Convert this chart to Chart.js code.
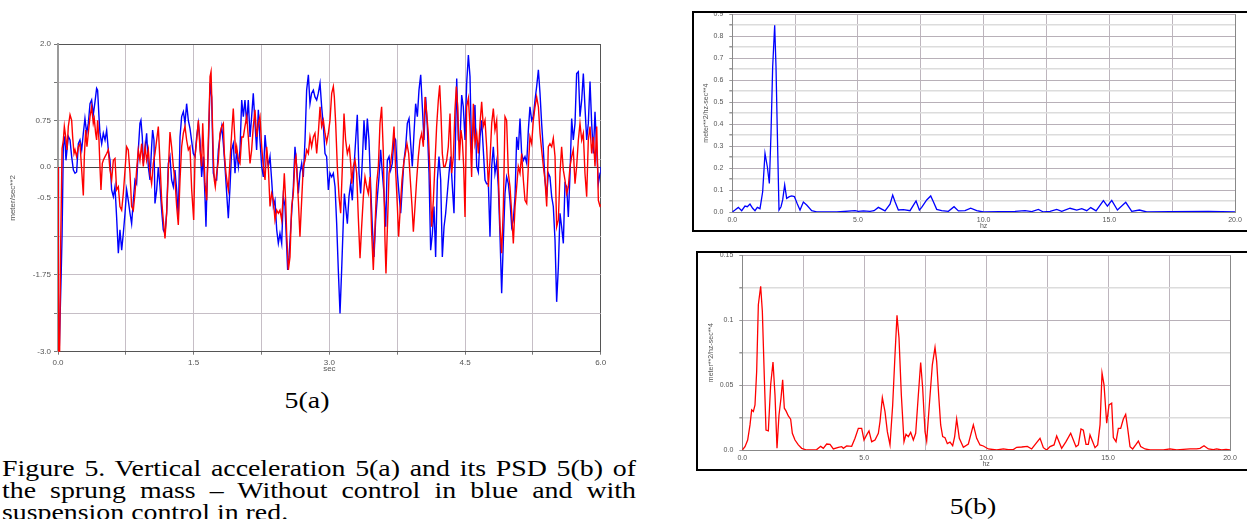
<!DOCTYPE html>
<html>
<head>
<meta charset="utf-8">
<script src="https://cdn.jsdelivr.net/npm/chart.js@4.4.0/dist/chart.umd.min.js"></script>
<style>
  body { margin: 0; width: 1247px; height: 519px; background: #fff; position: relative; overflow: hidden; }
  .abs { position: absolute; }
  .frame { position: absolute; box-sizing: border-box; border: 2px solid #000; overflow: hidden; }
  .frame canvas { display: block; }
  .serif { font-family: "Liberation Serif", "Times New Roman", serif; color: #000; transform-origin: left top; transform: scaleX(1.16); }
  #capA { left: 278px; top: 386px; width: 50px; text-align: center; font-size: 24px; line-height: 28px; }
  #capB { left: 944px; top: 492px; width: 50px; text-align: center; font-size: 24px; line-height: 28px; }
  #figText { left: 2px; top: 457px; width: 546.5px; font-size: 24px; line-height: 22px; text-align: justify; }
</style>
</head>
<body>

<div class="abs" style="left:0;top:0;"><canvas id="accelChart" width="620" height="380"></canvas></div>

<div class="frame" style="left:692px;top:11px;width:560px;height:221px;">
  <canvas id="psdTop" width="553" height="226" style="margin-top:-9px;"></canvas>
</div>

<div class="frame" style="left:696px;top:251px;width:560px;height:220px;">
  <canvas id="psdBottom" width="549" height="224" style="margin-top:-8px;"></canvas>
</div>

<div id="capA" class="abs serif">5(a)</div>
<div id="capB" class="abs serif">5(b)</div>
<div id="figText" class="abs serif">Figure 5. Vertical acceleration 5(a) and its PSD 5(b) of the sprung mass &ndash; Without control in blue and with suspension control in red.</div>

<script>
// ---- 5(a) vertical acceleration, sec -> meter/sec**2 ----
const blueTime = [
  0,0.005,0.015,0.035,0.045,0.059,0.075,0.088,0.114,0.133,0.151,0.17,0.188,0.206,0.225,0.243,0.262,0.28,0.298,0.317,
  0.335,0.354,0.372,0.39,0.409,0.427,0.438,0.453,0.464,0.483,0.501,0.52,0.538,0.556,0.575,0.593,0.612,0.63,0.648,0.667,
  0.685,0.704,0.722,0.741,0.759,0.777,0.796,0.814,0.833,0.851,0.869,0.888,0.906,0.917,0.932,0.943,0.962,0.98,0.999,1.017,
  1.035,1.046,1.061,1.072,1.091,1.109,1.128,1.146,1.164,1.183,1.201,1.22,1.238,1.256,1.275,1.293,1.312,1.33,1.349,1.367,
  1.386,1.404,1.422,1.441,
  1.459,1.496,1.515,1.533,1.552,1.57,1.588,1.607,1.625,1.636,1.651,1.662,1.681,1.699,1.717,1.736,1.754,1.773,1.791,1.81,
  1.828,1.846,1.865,1.883,1.902,1.92,1.938,1.957,1.975,1.994,2.012,2.031,2.049,2.067,2.086,2.104,2.123,2.141,2.159,2.178,
  2.196,2.215,2.233,2.252,2.27,2.289,2.307,2.325,2.344,2.362,2.381,2.399,2.418,2.436,2.454,2.473,2.491,2.51,2.528,2.539,
  2.554,2.565,2.583,2.602,2.62,2.639,2.657,2.675,2.694,2.712,2.731,2.749,2.768,2.786,2.804,2.823,2.841,2.86,2.878,2.897,
  2.915,2.934,2.952,2.97,2.989,
  3.007,3.026,3.044,3.063,3.081,3.099,3.118,3.136,3.155,3.166,3.18,3.199,3.217,3.236,3.254,3.273,3.291,3.309,3.328,3.346,
  3.365,3.383,3.402,3.42,3.438,3.457,3.475,3.494,3.512,3.531,3.549,3.567,3.586,3.604,3.623,3.641,3.66,3.678,3.696,3.715,
  3.733,3.752,3.77,3.789,3.807,3.825,3.844,3.862,3.881,3.899,3.917,3.936,3.954,3.973,3.991,4.01,4.028,4.046,4.065,4.083,
  4.102,4.12,4.139,4.157,4.175,4.194,4.212,4.231,4.249,4.268,4.286,4.304,4.323,4.341,4.36,4.378,4.408,4.426,4.444,4.463,
  4.481,
  4.5,4.518,4.537,4.555,4.573,4.592,4.61,4.629,4.647,4.666,4.684,4.702,4.721,4.739,4.758,4.776,4.795,4.813,4.831,4.85,
  4.868,4.887,4.905,4.924,4.942,4.96,4.979,4.997,5.016,5.034,5.053,5.071,5.089,5.108,5.126,5.145,5.163,5.182,5.2,5.218,
  5.237,5.255,5.274,5.292,5.311,5.329,5.347,5.366,5.384,5.403,5.421,5.439,5.458,5.476,5.495,5.513,5.532,5.55,5.568,5.587,
  5.605,5.624,5.642,5.661,5.679,5.697,5.716,5.734,5.753,5.771,5.79,5.808,5.826,5.845,5.863,5.882,5.9,5.919,5.937,5.956,
  5.974,5.993,6.0
];
const blueAccel = [
  0,-2.9,-2.9,-1.75,-1.1,0.33,0.5,0.11,0.5,0.44,0.17,-0.05,-0.1,-0.08,0.38,0.44,0.28,0.55,0.79,0.55,
  0.71,1.03,1.09,0.85,1.06,1.28,1.25,0.82,0.55,0.38,0.55,0.44,0.6,0.28,0.11,-0.37,-0.48,-0.32,-0.81,-1.4,
  -1.02,-1.35,-1.08,-0.75,-0.37,-0.54,-0.75,-0.92,-0.54,-0.21,-0.27,0.28,0.71,0.76,0.49,0.06,0.28,0.55,0.0,-0.21,
  0.33,0.6,0.44,-0.59,-0.37,0.0,-0.32,-0.7,-1.02,-1.08,-0.75,0.06,0.17,-0.21,-0.32,-0.05,-0.37,-0.81,0.49,0.82,
  0.9,0.71,1.03,0.76,
  0.63,0.22,0.17,0.49,0.71,0.44,-0.16,0.17,-0.48,-0.97,-0.1,0.28,1.36,1.14,-0.1,-0.21,-0.21,0.28,0.49,0.66,
  0.38,0.01,-0.43,-0.83,-0.32,0.28,0.38,-0.1,0.28,0.01,0.28,1.09,0.82,1.09,0.71,1.09,0.49,0.82,1.2,0.71,
  0.28,0.93,0.44,0.01,-0.16,0.52,0.22,0.01,0.17,-0.21,-0.64,-0.54,-1.02,-1.24,-1.08,-1.24,-0.48,-0.64,-1.29,-1.67,
  -1.46,-1.19,-0.75,-0.32,0.33,0.01,-0.43,-0.1,0.06,-0.16,0.44,1.25,1.5,1.03,1.2,1.25,1.14,1.09,1.2,1.36,
  0.98,0.66,0.22,0.17,-0.37,
  -0.1,-0.16,-0.1,-0.32,-0.92,-1.67,-2.38,-1.67,-0.86,-0.43,-0.64,-0.92,-0.48,-0.27,-0.54,0.01,0.44,0.85,-0.1,-0.43,
  0.11,0.76,0.28,0.79,0.44,-0.32,-0.97,-1.46,-0.86,-0.48,-0.16,0.28,-0.1,-0.43,-0.97,0.11,0.17,-0.05,0.06,0.49,
  0.44,-0.1,-0.43,-0.75,-0.32,0.11,0.33,0.71,0.79,0.38,0.01,0.55,1.03,0.82,1.25,1.5,0.98,0.44,1.14,0.66,
  -0.1,-1.35,-1.08,-0.64,-1.46,-0.21,0.17,-0.21,-1.46,-0.97,-0.75,-0.43,-0.1,0.17,-0.32,-0.75,1.44,0.44,0.4,1.17,
  0.98,
  0.44,1.36,1.82,1.47,0.22,0.66,1.01,0.01,-0.08,0.49,0.76,0.28,-0.21,-0.27,-0.27,-1.13,0.01,0.33,-0.1,0.09,
  -0.32,-1.13,-2.05,-1.19,-0.43,-0.16,-0.27,-0.54,-0.97,-0.86,-0.48,0.49,0.28,0.79,0.22,0.11,0.17,0.06,0.6,0.98,
  0.76,0.82,1.09,1.31,1.58,1.2,0.71,0.28,-0.21,-0.48,-0.1,-0.16,-0.48,-0.64,-1.19,-2.19,-1.62,-0.75,-0.97,-1.24,
  -0.27,-0.32,-0.81,-0.1,0.79,0.44,0.71,1.52,1.55,0.82,1.09,1.52,0.98,0.44,0.71,1.39,0.71,0.22,0.9,0.28,
  -0.27,-0.1,0.0
];
const redTime = [
  0,0.004,0.018,0.03,0.045,0.059,0.07,0.085,0.1,0.114,0.133,0.151,0.162,0.177,0.188,0.206,0.225,0.243,0.262,0.28,
  0.291,0.306,0.32,0.335,0.354,0.372,0.39,0.401,0.416,0.427,0.438,0.453,0.464,0.475,0.49,0.501,0.52,0.538,0.556,0.575,
  0.593,0.612,0.63,0.648,0.667,0.685,0.704,0.722,0.741,0.759,0.777,0.796,0.814,0.833,0.851,0.869,0.888,0.906,0.925,0.943,
  0.962,0.98,0.999,1.017,1.035,1.054,1.072,1.091,1.109,1.128,1.146,1.164,1.183,1.201,1.22,1.238,1.256,1.275,1.293,1.312,
  1.33,1.349,1.367,1.386,1.404,1.422,1.441,1.459,1.478,1.5,
  1.515,1.533,1.552,1.57,1.588,1.6,1.614,1.625,1.644,1.662,1.673,1.681,1.692,1.703,1.717,1.728,1.739,1.754,1.773,1.791,
  1.81,1.828,1.839,1.857,1.872,1.883,1.902,1.92,1.938,1.95,1.964,1.975,1.994,2.012,2.031,2.049,2.067,2.086,2.104,2.123,
  2.141,2.159,2.178,2.196,2.215,2.233,2.252,2.27,2.289,2.307,2.325,2.344,2.362,2.381,2.399,2.418,2.436,2.454,2.473,2.491,
  2.502,2.517,2.528,2.547,2.565,2.583,2.602,2.62,2.631,2.646,2.657,2.675,2.694,2.712,2.731,2.749,2.768,2.786,2.804,2.823,
  2.841,2.86,2.878,2.897,2.915,2.934,2.952,2.97,
  2.989,3.007,3.026,3.044,3.055,3.07,3.088,3.107,3.125,3.144,3.162,3.18,3.199,3.21,3.221,3.236,3.247,3.265,3.284,3.302,
  3.32,3.339,3.357,3.376,3.394,3.413,3.431,3.45,3.468,3.486,3.505,3.523,3.542,3.56,3.578,3.597,3.615,3.626,3.641,3.66,
  3.678,3.696,3.715,3.733,3.752,3.766,3.785,3.803,3.822,3.84,3.858,3.877,3.895,3.914,3.929,3.947,3.965,3.984,4.002,4.021,
  4.039,4.058,4.076,4.094,4.113,4.131,4.15,4.168,4.186,4.205,4.22,4.234,4.249,4.264,4.279,4.297,4.315,4.334,4.352,4.371,
  4.389,4.404,4.419,4.437,4.455,4.47,4.485,4.5,
  4.518,4.537,4.555,4.573,4.592,4.61,4.629,4.647,4.666,4.684,4.702,4.721,4.739,4.758,4.776,4.795,4.813,4.831,4.85,4.868,
  4.887,4.905,4.924,4.942,4.96,4.979,4.997,5.016,5.034,5.053,5.071,5.089,5.108,5.126,5.145,5.163,5.182,5.2,5.218,5.237,
  5.255,5.274,5.292,5.311,5.329,5.347,5.366,5.384,5.403,5.421,5.439,5.458,5.476,5.495,5.513,5.532,5.55,5.568,5.587,5.605,
  5.624,5.642,5.661,5.679,5.697,5.716,5.734,5.753,5.771,5.79,5.808,5.826,5.845,5.863,5.882,5.9,5.919,5.937,5.956,5.974,
  5.993,6.0
];
const redAccel = [
  0,-3,-3,-1.2,0.3,0.44,0.66,0.49,0.28,0.66,0.85,0.76,0.49,0.22,0.28,0.17,0.33,0.38,-0.05,-0.46,
  0.17,0.6,0.33,0.55,0.82,0.98,0.71,0.79,0.55,0.44,0.76,0.44,0.01,-0.37,0.06,0.11,0.17,0.22,0.28,-0.05,
  -0.21,0.11,0.14,-0.37,-0.32,-0.64,-0.7,-0.43,-0.05,0.33,0.28,-0.1,-0.64,-0.7,-0.43,-0.05,0.28,0.11,0.38,0.01,
  0.33,0.11,0.28,-0.1,-0.27,0.06,0.22,0.44,0.66,0.06,-0.54,-0.86,-1.16,-0.75,-0.05,0.57,0.33,0.01,-0.21,-0.64,
  -0.94,-0.21,0.33,0.55,0.66,0.44,0.28,0.33,-0.37,-0.86,
  0.17,0.44,0.76,0.28,0.01,0.71,0.17,-0.27,-0.54,0.44,0.98,1.47,1.55,0.98,0.17,-0.21,-0.32,-0.1,0.11,0.55,
  0.66,0.71,0.22,-0.1,-0.27,-0.37,0.11,0.55,0.95,0.6,0.22,0.33,0.11,0.06,0.49,0.49,0.66,0.82,0.49,0.06,
  0.28,0.66,0.93,0.49,0.71,0.82,0.33,0.01,-0.21,0.33,0.01,-0.64,-0.43,-0.54,-0.86,-0.7,-0.75,-0.7,-0.86,-0.43,
  -0.1,-0.54,-1.08,-1.67,-1.46,-0.64,-0.43,0.11,0.17,-0.21,-0.54,-1.13,-0.54,0.01,0.11,0.28,0.22,0.49,0.33,0.49,
  0.55,0.22,0.55,0.98,0.66,0.76,0.55,0.4,
  0.55,0.76,1.2,1.31,1.14,0.71,0.01,-0.48,-0.75,0.01,0.87,0.44,0.22,0.28,0.33,0.06,-0.27,0.01,0.11,-0.1,
  -0.81,-1.48,-0.97,-0.48,-0.16,-0.32,-0.43,-0.16,-1.08,-1.67,-0.97,-0.27,0.01,0.71,0.98,0.22,-1.19,-1.73,-1.02,-0.1,
  0.06,0.28,0.66,-0.05,-0.64,-1.13,-0.64,-0.21,0.06,0.22,0.38,0.22,-0.21,-0.64,-1.05,-0.64,-0.21,0.17,0.44,0.55,
  0.33,1.14,0.87,0.55,-0.1,-0.97,-0.54,0.06,0.66,1.09,1.33,0.87,0.22,0.01,0.01,0.11,0.33,0.87,-0.1,0.17,
  0.93,1.31,0.98,0.11,0.6,0.44,0.01,-0.81,
  0.98,1.12,0.66,-0.16,1.03,0.38,0.55,0.22,0.71,1.06,0.66,0.76,0.33,-0.32,0.11,0.71,0.95,0.6,0.76,-0.1,
  -0.97,-1.4,-0.64,0.82,0.76,-0.1,-0.32,-0.75,-1.24,-0.64,-0.32,0.01,-0.1,0.22,-0.21,-0.54,-0.59,0.01,0.49,0.38,
  0.76,0.98,1.14,0.98,0.55,0.28,0.01,-0.21,-0.64,0.33,0.38,0.33,0.47,0.17,-0.97,-0.86,-0.1,0.33,-0.05,-0.21,
  -0.43,-0.32,0.01,0.17,0.28,-0.27,0.01,0.44,0.71,0.44,0.55,-0.1,-0.48,0.44,0.66,0.22,0.49,0.01,0.66,-0.54,
  -0.64,-0.6
];
const accelTicksX = [0, 0.75, 1.5, 2.25, 3, 3.75, 4.5, 5.25, 6];
const accelLabelsX = ['0.0', '', '1.5', '', '3.0', '', '4.5', '', '6.0'];
const accelTicksY = [-3, -2.375, -1.75, -1.125, -0.5, 0, 0.125, 0.75, 1.375, 2];
const accelLabelsY = ['-3.0', '', '-1.75', '', '-0.5', '0.0', '', '0.75', '', '2.0'];

// ---- 5(b) PSD, hz -> meter**2/hz-sec**4 ----
const blueFreq = [
  0,0.107,0.24,0.373,0.505,0.598,0.704,0.81,0.903,0.996,1.102,1.208,1.301,1.394,1.474,1.54,1.606,1.686,1.739,1.792,
  1.858,1.938,2.004,2.084,2.163,2.27,2.362,2.469,2.588,2.694,2.827,2.96,3.158,3.357,4.153,4.883,5.015,5.214,5.48,5.64,
  5.81,6.076,6.275,6.381,6.474,6.607,6.806,7.071,7.31,7.443,7.535,7.734,7.894,8.0,8.132,8.331,8.597,8.822,8.995,9.26,
  9.485,9.724,9.99,11.25,11.647,11.913,12.178,12.377,12.642,12.908,13.106,13.438,13.703,13.902,14.101,14.26,14.473,14.764,14.924,15.096,
  15.322,15.653,15.892,16.197,16.489,17.417,18.943,20.0
];
const bluePsd = [
  0,0.009,0.021,0.006,0.027,0.024,0.036,0.017,0.006,0.021,0.015,0.092,0.267,0.206,0.13,0.358,0.66,0.85,0.66,0.358,
  0.009,0.024,0.055,0.123,0.062,0.07,0.073,0.07,0.036,0.009,0.045,0.032,0.006,0.001,0,0.006,0.003,0.005,0.003,0.006,
  0.021,0.005,0.036,0.077,0.047,0.009,0.011,0.006,0.05,0.009,0.021,0.055,0.073,0.047,0.012,0.006,0.003,0.024,0.005,0.006,
  0.017,0.006,0,0.003,0.006,0.002,0.012,0,0.003,0.012,0.003,0.017,0.009,0.015,0.006,0.02,0.005,0.052,0.027,0.053,
  0.009,0.044,0.003,0.009,0,0.002,0.003,0
];
const redFreq = [
  0,0.111,0.22,0.316,0.384,0.453,0.521,0.589,0.658,0.753,0.822,0.904,0.972,1.068,1.163,1.259,1.341,1.423,1.505,1.587,
  1.655,1.724,1.792,1.888,1.983,2.052,2.161,2.298,2.435,2.64,3.05,3.214,3.323,3.46,3.597,3.733,3.938,4.075,4.143,4.28,
  4.485,4.622,4.759,4.895,4.991,5.1,5.196,5.305,5.442,5.579,5.647,5.743,5.852,5.948,6.057,6.167,6.262,6.344,6.426,6.522,
  6.631,6.713,6.809,6.905,7.014,7.11,7.219,7.315,7.397,7.493,7.561,7.67,7.793,7.903,7.971,8.053,8.135,8.217,8.313,8.408,
  8.518,8.627,8.709,8.791,8.9,9.065,9.27,9.475,9.612,9.748,9.885,10.09,10.432,10.705,10.91,11.115,11.252,11.457,11.69,11.867,
  12.045,12.209,12.346,12.482,12.619,12.783,12.892,13.097,13.275,13.467,13.685,13.781,13.89,13.986,14.095,14.191,14.259,14.369,14.464,14.574,
  14.67,14.752,14.834,14.943,15.039,15.148,15.216,15.326,15.421,15.517,15.626,15.722,15.804,15.9,16.009,16.132,16.242,16.337,16.515,16.72,
  17.267,17.54,17.814,18.087,18.36,18.634,18.77,18.934,19.112,19.317,19.454,19.659,19.837,20.0
];
const redPsd = [
  0,0.0026,0.0077,0.0193,0.0309,0.0296,0.0347,0.0605,0.1119,0.1261,0.1068,0.0553,0.0154,0.0147,0.0502,0.0677,0.0424,0.0013,0.027,0.0399,
  0.054,0.0322,0.0301,0.0262,0.0237,0.0129,0.0077,0.0039,0.0013,0,0.0003,0.0028,0.0013,0.0046,0.0044,0.0008,0.0021,0.0026,0.0013,0.0031,
  0.0028,0.009,0.0167,0.0167,0.0077,0.0116,0.0147,0.0064,0.0077,0.0129,0.0219,0.0404,0.0296,0.0141,0.0039,0.0347,0.0733,0.1037,0.0862,0.0424,
  0.0064,0.0121,0.0103,0.0136,0.0077,0.0129,0.0424,0.0674,0.0476,0.0141,0.0069,0.0347,0.0656,0.079,0.0682,0.0424,0.0193,0.0103,0.0095,0.0049,
  0.006,0.0033,0.0103,0.0239,0.009,0.0021,0.0046,0.0193,0.009,0.0039,0.0031,0.0008,0,0.0008,0.0003,0.0003,0.0021,0.0023,0.0028,0.0008,
  0.0051,0.009,0.0018,0,0.0026,0.0039,0.0108,0.0013,0.0064,0.0129,0.0026,0.0039,0.0162,0.0152,0.0044,0.0044,0.0116,0.0064,0.0018,0.0039,
  0.0193,0.0592,0.0502,0.0206,0.0347,0.036,0.0095,0.0064,0.0167,0.0167,0.0239,0.0275,0.0167,0.0026,0.0008,0.0039,0.0069,0.0026,0.0008,0,
  0,0.0008,0,0.0005,0.0008,0.0008,0.0013,0.0033,0.0008,0.0003,0.0008,0,0.0005,0
];
const psdTicksX = [0, 2.5, 5, 7.5, 10, 12.5, 15, 17.5, 20];
const psdLabelsX = ['0.0', '', '5.0', '', '10.0', '', '15.0', '', '20.0'];
const psdTopTicksY = [0, 0.05, 0.1, 0.15, 0.2, 0.25, 0.3, 0.35, 0.4, 0.45, 0.5, 0.55, 0.6, 0.65, 0.7, 0.75, 0.8, 0.85, 0.9];
const psdTopLabelsY = ['0.0', '', '0.1', '', '0.2', '', '0.3', '', '0.4', '', '0.5', '', '0.6', '', '0.7', '', '0.8', '', '0.9'];
const psdBottomTicksY = [0, 0.025, 0.05, 0.075, 0.1, 0.125, 0.15];
const psdBottomLabelsY = ['0.0', '', '0.05', '', '0.1', '', '0.15'];

Chart.defaults.font.family = '"Liberation Sans", Arial, sans-serif';
Chart.defaults.color = '#555';
Chart.defaults.animation = false;

function points(xs, ys) {
  return xs.map((x, i) => ({ x: x, y: ys[i] }));
}

function line(xs, ys, color, width) {
  return {
    data: points(xs, ys),
    borderColor: color,
    borderWidth: width,
    pointRadius: 0,
    tension: 0,
    fill: false
  };
}

// fixed tick positions with labels only where the original prints one
function fixedAxis(values, labels, opts) {
  return Object.assign({
    type: 'linear',
    min: values[0],
    max: values[values.length - 1],
    afterBuildTicks: s => { s.ticks = values.map(v => ({ value: v })); },
  }, opts, {
    ticks: Object.assign({ autoSkip: false, maxRotation: 0, callback: (v, i) => labels[i] }, opts.ticks)
  });
}

// ---- chart 5(a) ----
new Chart(document.getElementById('accelChart'), {
  type: 'line',
  data: {
    datasets: [
      line(redTime, redAccel, '#ff0000', 1.4),
      line(blueTime, blueAccel, '#0000ff', 1.4)
    ]
  },
  options: {
    responsive: false,
    devicePixelRatio: 1,
    layout: { padding: { left: 8, top: 44, right: 19.3, bottom: 0 } },
    plugins: { legend: { display: false }, tooltip: { enabled: false } },
    scales: {
      x: fixedAxis(accelTicksX, accelLabelsX, {
        afterFit: s => { s.height = 28.3; },
        border: { color: '#555', width: 1 },
        grid: {
          color: c => c.tick && c.tick.value === 6 ? '#555' : '#c6bec6',
          tickColor: '#777', tickLength: 3
        },
        ticks: { font: { size: 8 }, padding: 3, color: '#555' },
        title: { display: true, text: 'sec', font: { size: 8 }, color: '#555', padding: { top: 0, bottom: 6 } }
      }),
      y: fixedAxis(accelTicksY, accelLabelsY, {
        afterFit: s => { s.width = 50; },
        border: { color: '#9a9a9a', width: 2 },
        grid: {
          color: c => {
            const v = c.tick && c.tick.value;
            if (v === 0) return '#444';
            if (v === 2) return '#555';
            return '#c6bec6';
          },
          tickColor: '#777', tickLength: 4
        },
        ticks: { font: { size: 8 }, padding: 3, color: '#555' },
        title: { display: true, text: 'meter/sec**2', font: { size: 8 }, color: '#555', padding: { top: 0, bottom: 0 } }
      })
    }
  }
});

// ---- chart 5(b) PSDs ----
function psdChart(id, xs, ys, color, ticksY, labelsY, layout) {
  new Chart(document.getElementById(id), {
    type: 'line',
    data: { datasets: [line(xs, ys, color, 1.3)] },
    options: {
      responsive: false,
      devicePixelRatio: 1,
      layout: { padding: layout.padding },
      plugins: { legend: { display: false }, tooltip: { enabled: false } },
      scales: {
        x: fixedAxis(psdTicksX, psdLabelsX, {
          afterFit: s => { s.height = layout.xHeight; },
          border: { color: '#888', width: 1 },
          grid: { color: c => c.tick && c.tick.value === 20 ? '#888' : '#bdb5bd', drawTicks: false },
          ticks: { font: { size: 7 }, padding: layout.xPad, color: '#555' },
          title: { display: true, text: 'hz', font: { size: 7, lineHeight: 1 }, color: '#555', padding: { top: 0, bottom: layout.hzPad } }
        }),
        y: fixedAxis(ticksY, labelsY, {
          afterFit: s => { s.width = layout.yWidth; },
          border: { color: '#888', width: 1 },
          grid: {
            color: c => c.index % 2 === 0 ? '#b8b0b8' : '#dcdcdc',
            lineWidth: c => c.index % 2 === 0 ? 1 : 1.5,
            tickColor: '#999', tickLength: 3
          },
          ticks: { font: { size: 7 }, padding: layout.yPad, color: '#555' },
          title: { display: true, text: 'meter**2/hz-sec**4', font: { size: 7 }, color: '#555', padding: { top: layout.titlePad, bottom: 0 } }
        })
      }
    }
  });
}

psdChart('psdTop', blueFreq, bluePsd, '#0000ff', psdTopTicksY, psdTopLabelsY, {
  padding: { left: 4, top: 1, right: 12, bottom: 0 },
  xHeight: 18, xPad: 4, hzPad: 0.5, yWidth: 34.3, yPad: 6, titlePad: 3.8
});

psdChart('psdBottom', redFreq, redPsd, '#ff0000', psdBottomTicksY, psdBottomLabelsY, {
  padding: { left: 4, top: 2.7, right: 17, bottom: 0 },
  xHeight: 19, xPad: 3.8, hzPad: 1.5, yWidth: 40.3, yPad: 6, titlePad: 4.5
});
</script>
</body>
</html>
